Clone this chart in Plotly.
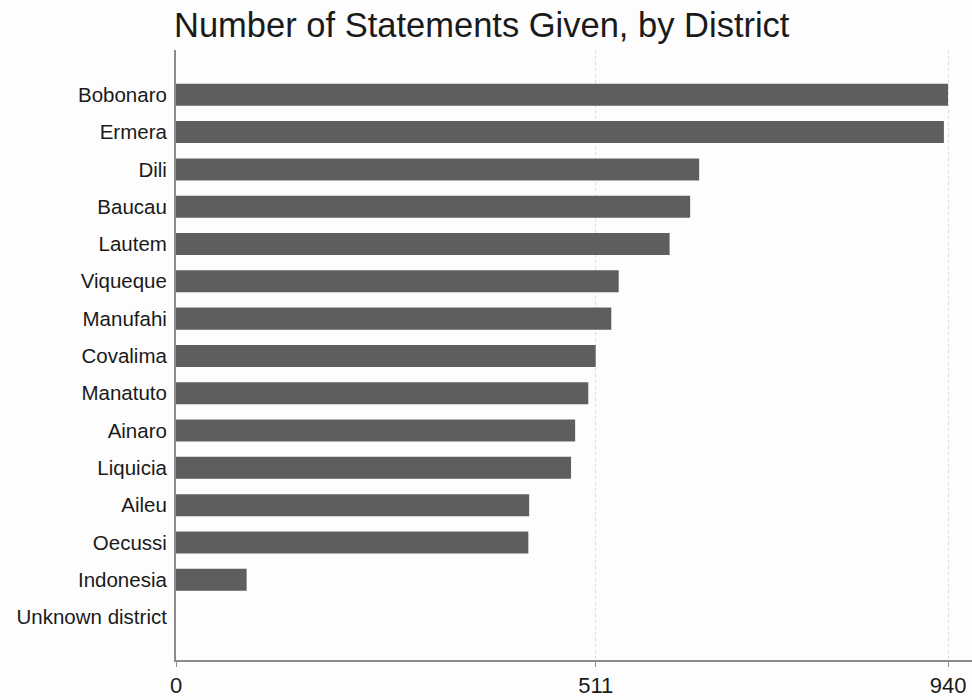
import plotly.graph_objects as go

districts = ["Bobonaro", "Ermera", "Dili", "Baucau", "Lautem", "Viqueque", "Manufahi",
             "Covalima", "Manatuto", "Ainaro", "Liquicia", "Aileu", "Oecussi",
             "Indonesia", "Unknown district"]
statements = [940, 935, 637, 626, 601, 539, 530, 511, 502, 486, 481, 430, 429, 86, 0]
x_ticks = [0, 511, 940]
x_tick_labels = ["0", "511", "940"]

fig = go.Figure(go.Bar(
    x=statements, y=districts, orientation="h",
    marker=dict(color="#5e5e5e", line=dict(width=0)),
    width=0.59,
))

font_family = "Liberation Sans, Arial, Helvetica, sans-serif"
fig.update_layout(
    width=972, height=700,
    margin=dict(l=176, r=0, t=50, b=40),
    paper_bgcolor="#fdfdfd", plot_bgcolor="#fdfdfd",
    font=dict(family=font_family, color="#1a1a1a"),
    title=dict(text="Number of Statements Given, by District",
               font=dict(size=34.5, family=font_family, color="#1a1a1a"),
               x=174/972, xanchor="left", xref="container",
               y=0.965, yanchor="middle", yref="container", pad=dict(l=0)),
    showlegend=False,
    bargap=0.41,
)
fig.update_xaxes(
    range=[0, 969.2], tickvals=x_ticks, ticktext=x_tick_labels,
    showline=True, linecolor="#8c8c8c", linewidth=2,
    ticks="outside", ticklen=5, tickcolor="#8c8c8c", tickwidth=1,
    showgrid=True, gridcolor="#dcdcdc", gridwidth=1, griddash="dot",
    zeroline=False, tickfont=dict(size=22, color="#1a1a1a"),
)
fig.update_yaxes(
    categoryorder="array", categoryarray=districts,
    range=[len(districts) - 1 + 1.15, -1.2],
    showline=True, linecolor="#8c8c8c", linewidth=2,
    ticks="", showgrid=False, zeroline=False,
    ticklabelstandoff=3,
    tickfont=dict(size=20.5, color="#1a1a1a"),
)
fig.write_html("out.html", config={"displayModeBar": False},
               post_script="document.body.style.margin='0';")
